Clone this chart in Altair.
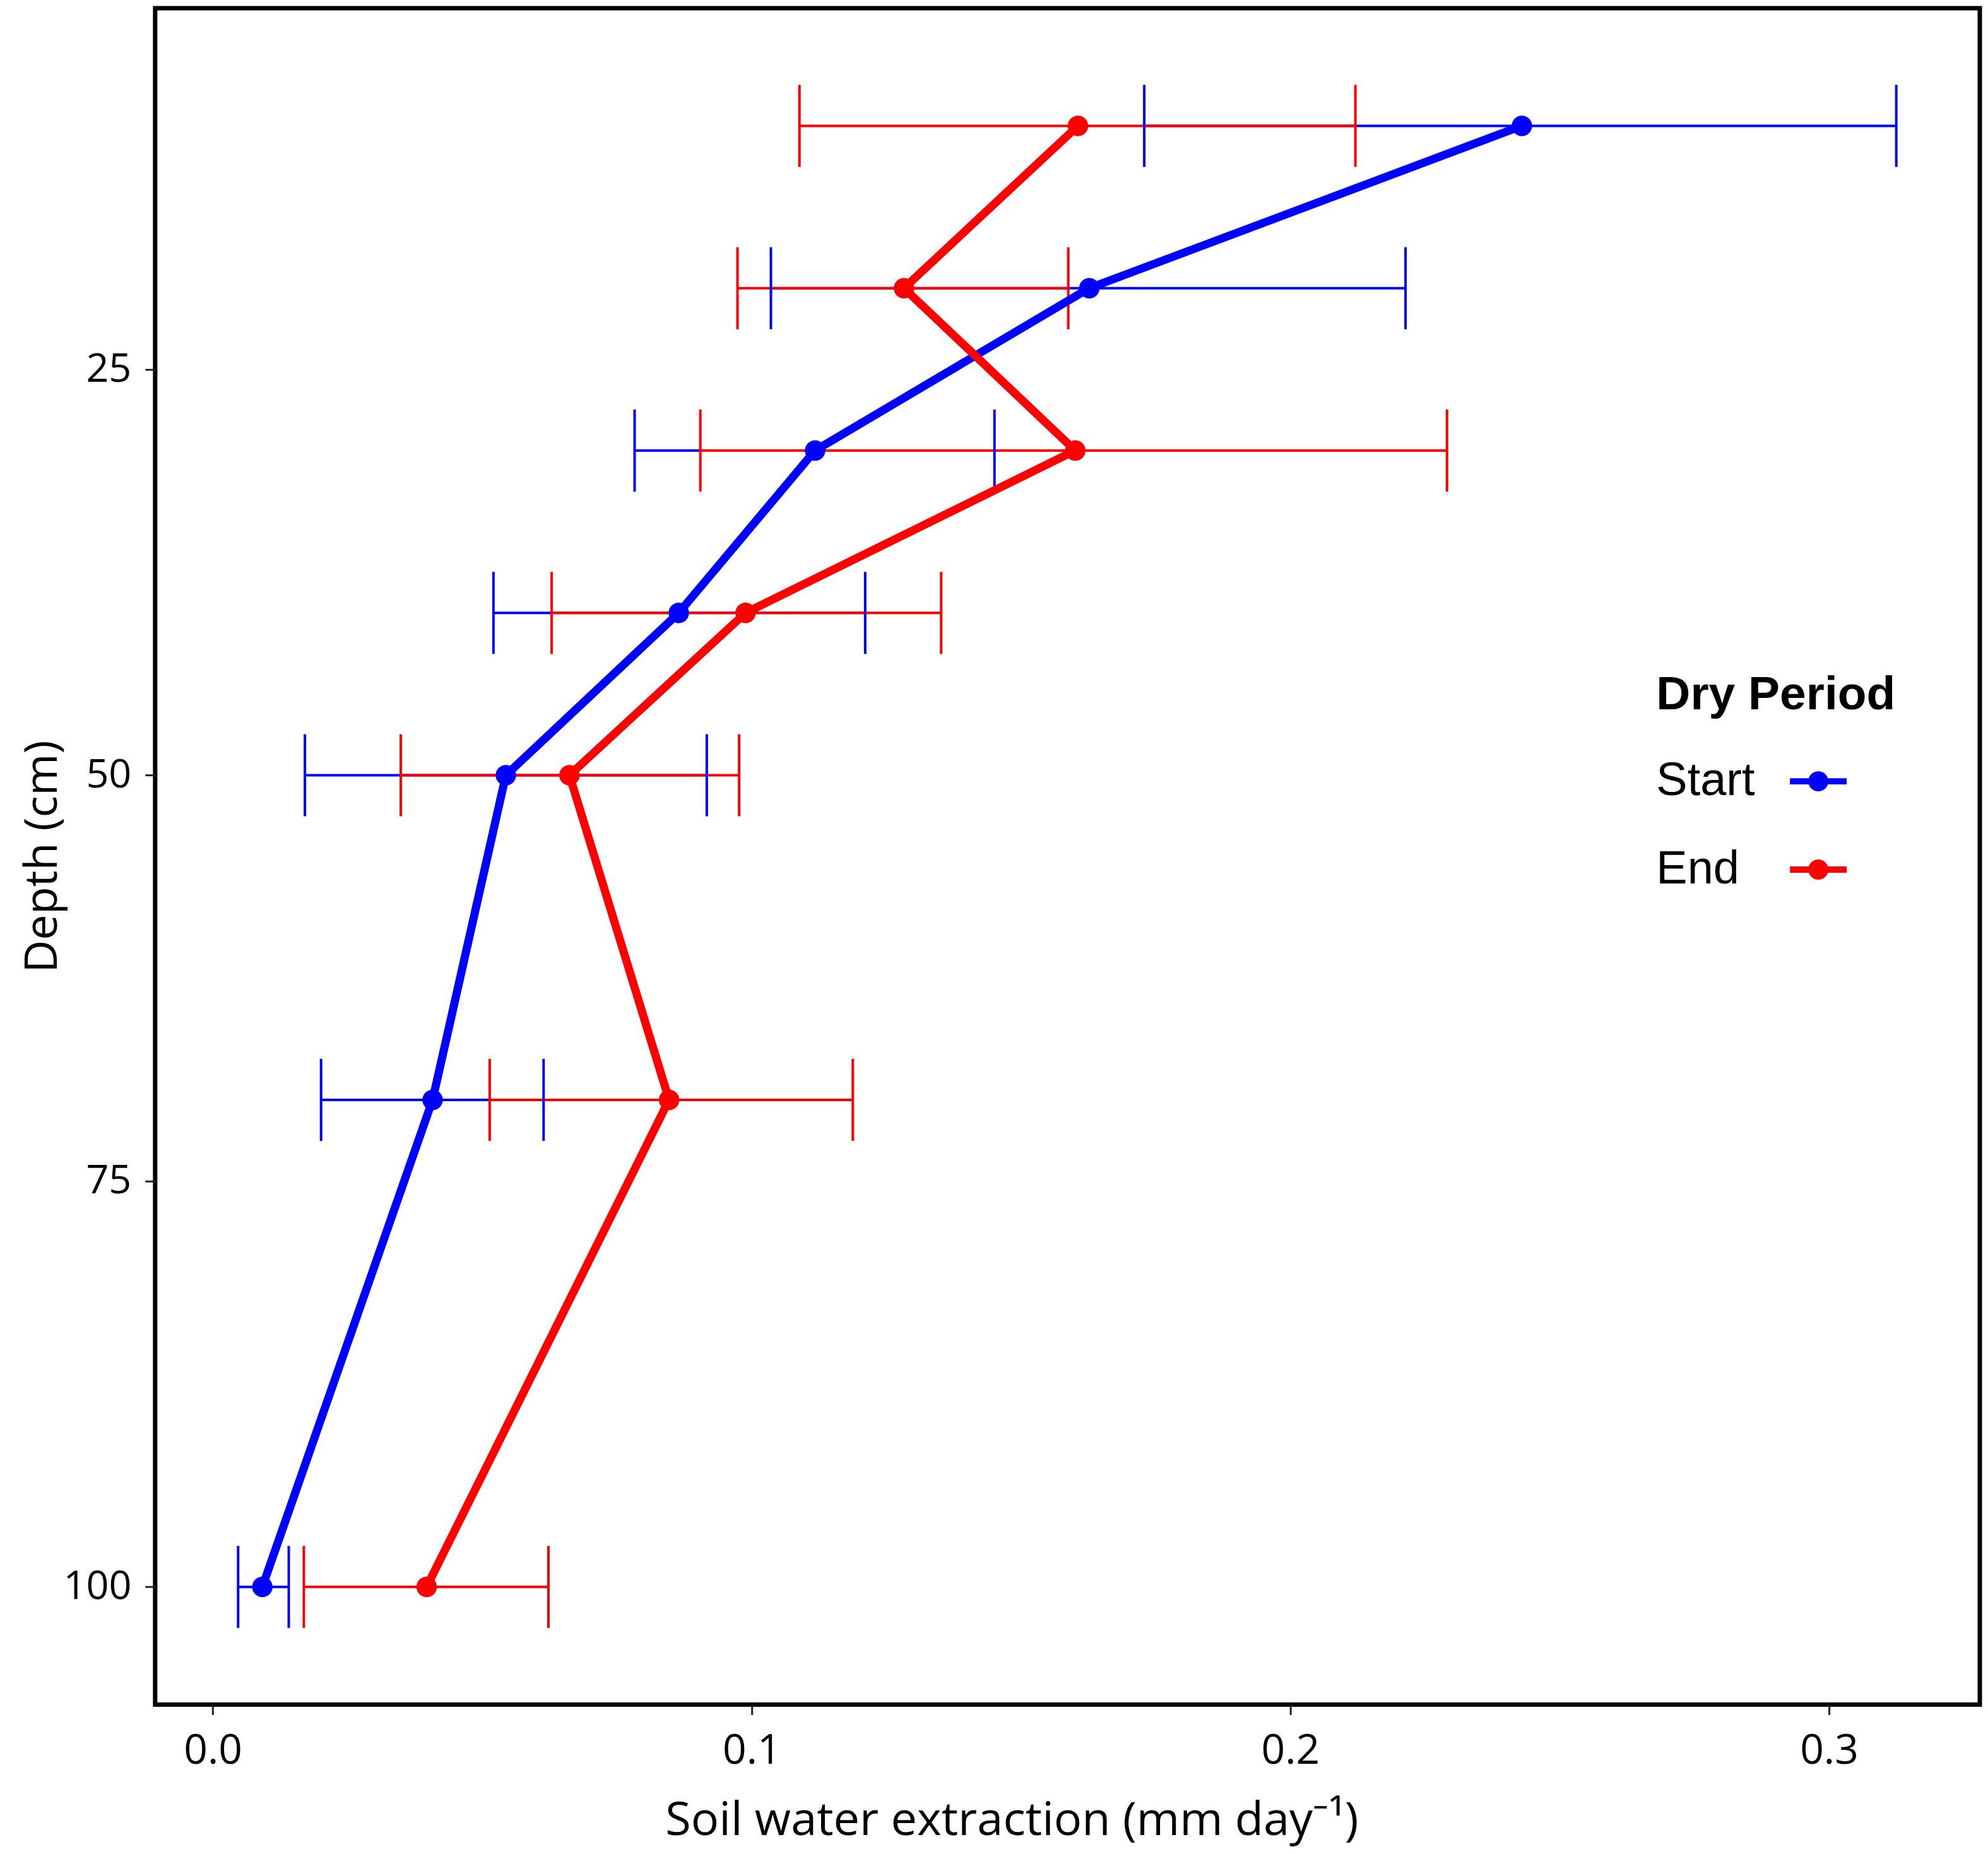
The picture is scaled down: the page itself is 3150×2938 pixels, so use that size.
import altair as alt
import pandas as pd

# ---- data ----
depths = [10, 20, 30, 40, 50, 70, 100]

start_mean = [0.2430, 0.1627, 0.1118, 0.0865, 0.0544, 0.0408, 0.0092]
start_lo   = [0.1729, 0.1036, 0.0783, 0.0521, 0.0171, 0.0201, 0.0047]
start_hi   = [0.3125, 0.2214, 0.1451, 0.1211, 0.0917, 0.0614, 0.0141]

end_mean = [0.1606, 0.1283, 0.1601, 0.0989, 0.0662, 0.0847, 0.0397]
end_lo   = [0.1089, 0.0974, 0.0905, 0.0629, 0.0349, 0.0514, 0.0169]
end_hi   = [0.2121, 0.1588, 0.2291, 0.1352, 0.0977, 0.1188, 0.0623]

periods = ["Start", "End"]
colors = ["#0000FF", "#FF0000"]
x_ticks = [0.0, 0.1, 0.2, 0.3]
y_ticks = [25, 50, 75, 100]

rows = []
for p, m, lo, hi in [("Start", start_mean, start_lo, start_hi),
                     ("End", end_mean, end_lo, end_hi)]:
    for d, mv, l, h in zip(depths, m, lo, hi):
        rows.append({"period": p, "depth": d, "mean": mv, "lo": l, "hi": h})
df = pd.DataFrame(rows)

FONT = "Open Sans"

xscale = alt.Scale(domain=[-0.0107, 0.3280], nice=False, zero=False)
yscale = alt.Scale(domain=[2.75, 107.25], nice=False, zero=False, reverse=True)

xaxis = alt.Axis(title="Soil water extraction (mm day⁻¹)", values=x_ticks, format=".1f",
                 titleX=1358, titleY=206, titleBaseline="alphabetic", titleAlign="center",
                 labelFontSize=66, labelPadding=25, titleFontSize=74)
yaxis = alt.Axis(title="Depth (cm)", values=y_ticks, format="d",
                 titleX=-178, titleY=1345, titleAlign="center", titleBaseline="middle",
                 titleAngle=-90, labelFontSize=63, labelPadding=22, titleFontSize=72)

sym_path = ("M-1,-0.11L-0.3375,-0.11A0.355,0.355,0,0,1,0.3375,-0.11L1,-0.11L1,0.11"
            "L0.3375,0.11A0.355,0.355,0,0,1,-0.3375,0.11L-1,0.11Z")

legend = alt.Legend(title="Dry Period", orient="none", legendX=2380, legendY=1053,
                    titleFont="Liberation Sans", titleFontSize=75, titleFontWeight="bold",
                    titleColor="black", titleBaseline="top", titlePadding=53,
                    titleLimit=1000, labelLimit=1000,
                    labelFont="Liberation Sans", labelFontSize=74, labelColor="black",
                    symbolType=sym_path, symbolSize=8100, symbolStrokeWidth=0,
                    symbolOpacity=1, symbolOffset=212, labelOffset={"expr": "-302"},
                    rowPadding=58, padding=0)

def cscale():
    return alt.Scale(domain=periods, range=colors)

base = alt.Chart(df)

bars = base.mark_rule(strokeWidth=4).encode(
    x=alt.X("lo:Q", scale=xscale, axis=xaxis),
    x2="hi:Q",
    y=alt.Y("depth:Q", scale=yscale, axis=yaxis),
    color=alt.Color("period:N", scale=cscale(), legend=None),
)
cap_lo = base.mark_tick(orient="vertical", size=130, thickness=4, opacity=1).encode(
    x=alt.X("lo:Q", scale=xscale), y=alt.Y("depth:Q", scale=yscale),
    color=alt.Color("period:N", scale=cscale(), legend=None))
cap_hi = base.mark_tick(orient="vertical", size=130, thickness=4, opacity=1).encode(
    x=alt.X("hi:Q", scale=xscale), y=alt.Y("depth:Q", scale=yscale),
    color=alt.Color("period:N", scale=cscale(), legend=None))
lines = base.mark_line(strokeWidth=13, strokeJoin="round").encode(
    x=alt.X("mean:Q", scale=xscale), y=alt.Y("depth:Q", scale=yscale),
    color=alt.Color("period:N", scale=cscale(), legend=None),
    order=alt.Order("depth:Q"), detail="period:N")
points = base.mark_point(filled=True, size=1050, opacity=1, shape="circle").encode(
    x=alt.X("mean:Q", scale=xscale), y=alt.Y("depth:Q", scale=yscale),
    color=alt.Color("period:N", scale=cscale(), legend=legend))

chart = alt.layer(bars, cap_lo, cap_hi, lines, points).resolve_scale(
    color="independent"
).properties(
    width=2893, height=2690,
    autosize=alt.AutoSizeParams(type="none"),
    padding={"left": 238, "top": 4, "right": 5, "bottom": 236},
    background="white",
).configure_view(
    stroke="black", strokeWidth=7
).configure_axis(
    grid=False, domain=False, ticks=True, tickColor="#222222", tickWidth=3, tickSize=16,
    labelFont=FONT, titleFont=FONT, labelColor="black", titleColor="black",
    titleFontWeight="normal"
)

chart.save("out.html", embed_options={"renderer": "svg", "actions": False})
